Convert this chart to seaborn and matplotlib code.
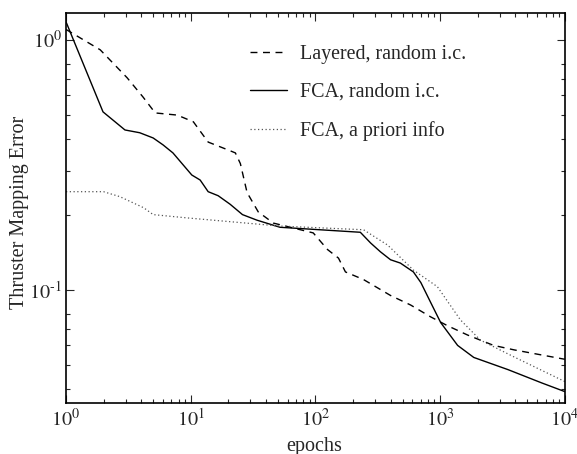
import numpy as np
import pandas as pd
import matplotlib
matplotlib.use("Agg")
import matplotlib.pyplot as plt
import seaborn as sns
from matplotlib.ticker import LogLocator, NullFormatter, FuncFormatter

# ---- data ----
layered_epochs = [1, 1.88, 3.09, 4.15, 5.19, 7.8, 10.5, 13.8, 20.7, 22.8, 25, 28.3, 34.8, 46,
                  96, 125, 153, 174, 243, 400, 580, 840, 1140, 1660, 2680, 3900, 9800, 10000]
layered_err = [1.10, 0.912, 0.705, 0.59, 0.51, 0.50, 0.47, 0.39, 0.36, 0.353, 0.32, 0.245, 0.205, 0.185,
               0.169, 0.145, 0.134, 0.118, 0.11, 0.095, 0.087, 0.078, 0.072, 0.066, 0.060, 0.0576, 0.0529, 0.0528]

fca_epochs = [1, 1.98, 2.97, 3.9, 5.0, 6.0, 7.2, 10.2, 11.9, 13.8, 16.6, 20.7, 26, 34, 52,
              229, 277, 332, 400, 480, 610, 700, 840, 1010, 1380, 1860, 3500, 6500, 10000]
fca_err = [1.18, 0.515, 0.436, 0.425, 0.405, 0.38, 0.353, 0.288, 0.275, 0.247, 0.238, 0.22, 0.20, 0.19, 0.178,
           0.17, 0.154, 0.142, 0.132, 0.128, 0.118, 0.107, 0.089, 0.074, 0.060, 0.0537, 0.048, 0.0425, 0.0392]

prior_epochs = [1, 2, 2.7, 4.2, 5, 9.4, 52, 243, 380, 610, 950, 1450, 2100, 3900, 10000]
prior_err = [0.247, 0.247, 0.236, 0.213, 0.20, 0.194, 0.18, 0.174, 0.151, 0.12, 0.103, 0.076, 0.063, 0.054, 0.043]

labels = ["Layered, random i.c.", "FCA, random i.c.", "FCA, a priori info"]

sns.set_style("ticks")
plt.rcParams["font.family"] = ["Liberation Serif", "DejaVu Serif"]
plt.rcParams["mathtext.fontset"] = "stix"

fig = plt.figure(figsize=(5.77, 4.54), dpi=100)
ax = fig.add_axes([0.1144, 0.1123, 0.979 - 0.1144, 0.9714 - 0.1123])

series = [
    (layered_epochs, layered_err, labels[0], (0, (5, 4)), 1.0, "black"),
    (fca_epochs, fca_err, labels[1], "-", 1.0, "black"),
    (prior_epochs, prior_err, labels[2], (0, (1, 2)), 0.9, "#555555"),
]
for ep, er, lab, ls, lw, col in series:
    df = pd.DataFrame({"epochs": ep, "err": er})
    sns.lineplot(data=df, x="epochs", y="err", ax=ax, color=col, linestyle=ls,
                 linewidth=lw, label=lab, estimator=None, sort=False)

ax.set_xscale("log")
ax.set_yscale("log")
ax.set_xlim(1, 1e4)
ax.set_ylim(0.0353, 1.28)


def pow_label(v, pos):
    e = int(round(np.log10(v)))
    return r"$10^{\text{%d}}$" % e


ax.xaxis.set_major_locator(LogLocator(base=10))
ax.yaxis.set_major_locator(LogLocator(base=10))
ax.xaxis.set_major_formatter(FuncFormatter(pow_label))
ax.yaxis.set_major_formatter(FuncFormatter(pow_label))
ax.xaxis.set_minor_locator(LogLocator(base=10, subs=np.arange(2, 10)))
ax.yaxis.set_minor_locator(LogLocator(base=10, subs=np.arange(2, 9)))
ax.xaxis.set_minor_formatter(NullFormatter())
ax.yaxis.set_minor_formatter(NullFormatter())

ax.tick_params(which="both", direction="in", top=True, right=True, labelsize=14.5, width=0.8)
ax.tick_params(which="major", length=5.5)
ax.tick_params(axis="x", which="major", pad=4)
ax.tick_params(axis="y", which="major", pad=3)
ax.tick_params(which="minor", length=3)
for sp in ax.spines.values():
    sp.set_linewidth(1.2)
    sp.set_color("black")

ax.set_xlabel("epochs", fontsize=14.5)
ax.set_ylabel("Thruster Mapping Error", fontsize=14.5)
ax.xaxis.set_label_coords(0.498, -0.088)
ax.yaxis.set_label_coords(-0.074, 0.49)

leg = ax.legend(loc="upper left", bbox_to_anchor=(0.369, 0.918), frameon=False, fontsize=14.4,
                handlelength=1.85, labelspacing=0.95, handletextpad=0.65,
                borderaxespad=0, borderpad=0)

fig.savefig("out.png", dpi=100)
